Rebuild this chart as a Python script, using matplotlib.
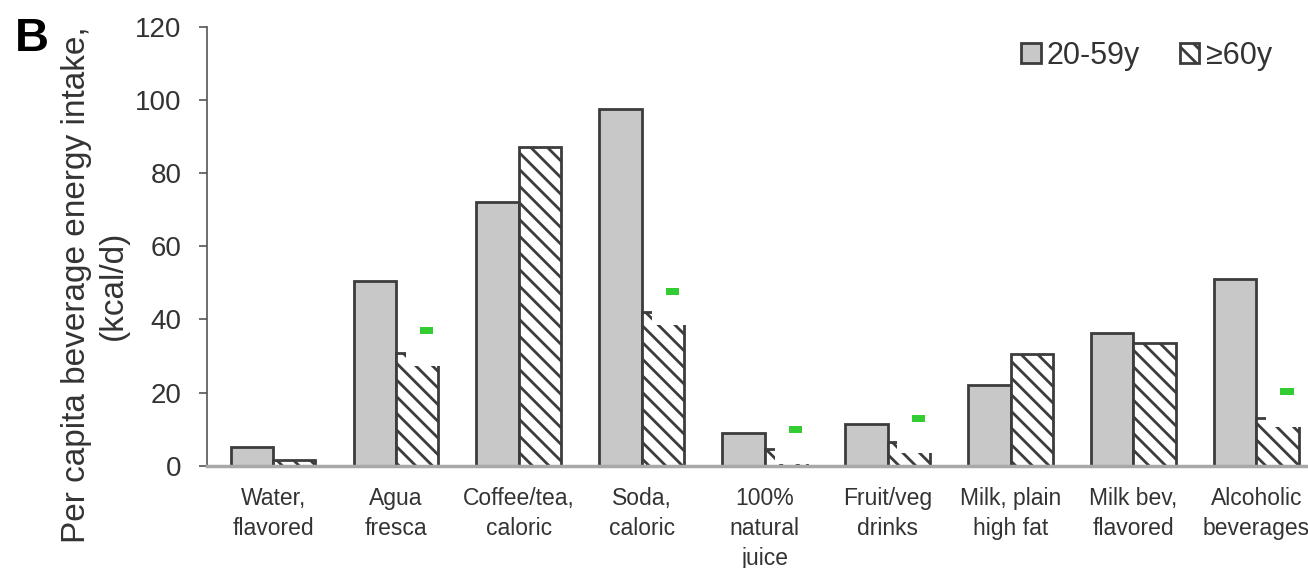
import numpy as np
import matplotlib
matplotlib.use('Agg')
import matplotlib.pyplot as plt

plt.rcParams['font.family'] = ['Liberation Sans', 'DejaVu Sans']
plt.rcParams['hatch.linewidth'] = 2.0
plt.rcParams['hatch.color'] = '#303030'

categories = ['Water,\nflavored', 'Agua\nfresca', 'Coffee/tea,\ncaloric', 'Soda,\ncaloric',
              '100%\nnatural\njuice', 'Fruit/veg\ndrinks', 'Milk, plain\nhigh fat',
              'Milk bev,\nflavored', 'Alcoholic\nbeverages']
young = [5.2, 50.5, 72, 97.5, 9, 11.5, 22, 36.3, 51]      # 20-59y
old = [1.5, 30.8, 87.2, 42, 4.5, 6.5, 30.6, 33.6, 13.1]   # >=60y
# white patch left over where the old labels were erased (bottom edge), nan = none
cover = [np.nan, 27.3, np.nan, 38.5, 0.5, 3.6, np.nan, np.nan, 10.7]
# green marks above the >=60y bars
marks = [np.nan, 36.9, np.nan, 47.6, 9.8, 12.8, np.nan, np.nan, 20.2]

x = np.arange(len(categories))
w = 0.345

fig = plt.figure(figsize=(13.08, 5.68), dpi=100)
ax = fig.add_axes([0.158, 0.18, 0.842, 0.773])

ax.bar(x - w/2, young, w, color='#c8c8c8', edgecolor='#3c3c3c', linewidth=2, label='20-59y', zorder=2)
ax.bar(x + w/2, old, w, color='white', edgecolor='#3c3c3c', linewidth=2, hatch='\\\\', label='\u226560y', zorder=2)

cov = np.array(cover)
ok = ~np.isnan(cov)
ax.bar(x[ok] + 0.08, 30, 0.38, bottom=cov[ok], align='edge', color='white', edgecolor='none', zorder=3)

mk = np.array(marks)
ok = ~np.isnan(mk)
ax.bar(x[ok] + 0.25, 1.9, 0.11, bottom=mk[ok] - 0.95, color='#33cc33', edgecolor='none', zorder=4)

ax.set_xlim(-0.54, 8.42)
ax.set_ylim(0, 120)
ax.set_yticks(np.arange(0, 121, 20))
ax.set_xticks(x)
ax.set_xticklabels(categories, fontsize=16.5, color='#333333', linespacing=1.4)
ax.tick_params(axis='x', length=0, pad=15)
ax.tick_params(axis='y', labelsize=20, length=6, width=1.2, color='#555555', labelcolor='#333333', pad=12)
for s in ['top', 'right']:
    ax.spines[s].set_visible(False)
ax.spines['left'].set_color('#555555')
ax.spines['left'].set_linewidth(1.2)
ax.spines['bottom'].set_color('#a8a8a8')
ax.spines['bottom'].set_linewidth(2.5)

ax.set_ylabel('Per capita beverage energy intake,\n(kcal/d)', fontsize=24, color='#333333',
              linespacing=1.25, va='center', ha='center')
ax.yaxis.set_label_coords(95 / 1308, 1 - 285 / 568, transform=fig.transFigure)

leg = ax.legend(loc='upper right', bbox_to_anchor=(0.992, 1.03), ncol=2, frameon=False, fontsize=22,
                handlelength=0.65, handleheight=0.65, handletextpad=0.2, columnspacing=1.3)
for t in leg.get_texts():
    t.set_color('#333333')

fig.text(0.011, 0.97, 'B', fontsize=34, fontweight='bold', va='top', ha='left')

fig.savefig('out.png', dpi=100)
